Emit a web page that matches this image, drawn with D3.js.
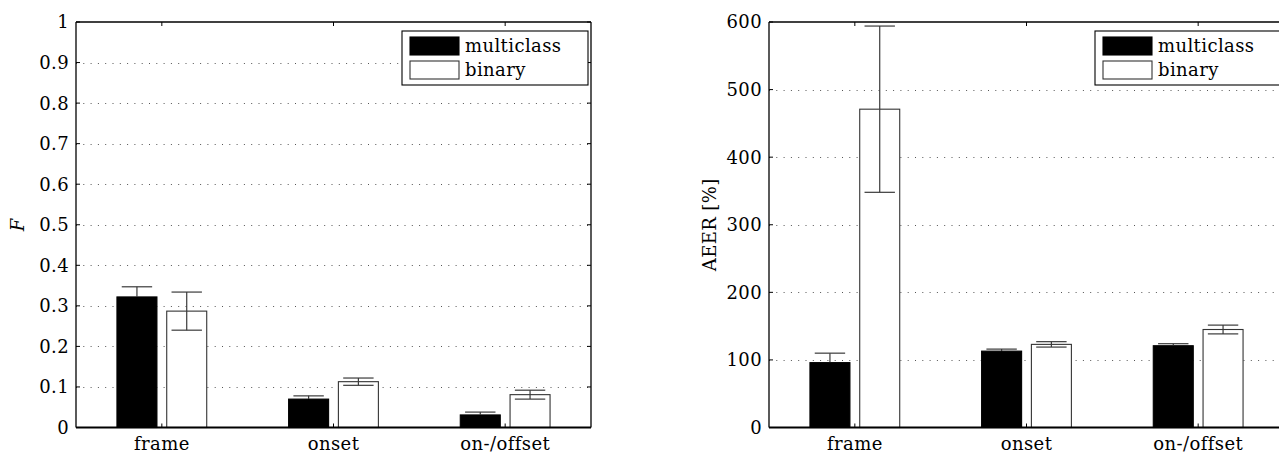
<!DOCTYPE html>
<html>
<head>
<meta charset="utf-8">
<script src="https://cdn.jsdelivr.net/npm/d3@7"></script>
<style>
  html, body { margin: 0; padding: 0; background: #fff; }
  svg { display: block; }
</style>
</head>
<body>
<svg id="chart" width="1279" height="454"></svg>
<script>
// ---- data ----
const categories = ["frame", "onset", "on-/offset"];
const seriesNames = ["multiclass", "binary"];

const fMulticlass = [0.322, 0.070, 0.031];
const fMulticlassErr = [0.025, 0.008, 0.007];
const fBinary = [0.287, 0.113, 0.081];
const fBinaryErr = [0.047, 0.009, 0.011];

const aeerMulticlass = [96, 113, 121];
const aeerMulticlassErr = [14, 3, 3];
const aeerBinary = [471, 123, 145];
const aeerBinaryErr = [123, 4, 6.5];

const fTicks = [0, 0.1, 0.2, 0.3, 0.4, 0.5, 0.6, 0.7, 0.8, 0.9, 1];
const aeerTicks = [0, 100, 200, 300, 400, 500, 600];

// ---- drawing ----
const svg = d3.select("#chart");
const FONT = "DejaVu Serif";
const FS = 18;
const LS = "0.4px";

function txt(sel) {
  return sel.attr("font-family", FONT).attr("font-size", FS).style("letter-spacing", LS).attr("fill", "#000");
}

function panel(opts) {
  const { x0, x1, y0, y1, ymax, ticks, tickFmt, multi, multiErr, bin, binErr, ylabel, ylabelItalic, ylabelX } = opts;
  const g = svg.append("g");
  const x = d3.scaleLinear().domain([0.5, 3.5]).range([x0, x1]);
  const y = d3.scaleLinear().domain([0, ymax]).range([y0, y1]);
  const unit = x(1) - x(0);
  const barW = 0.233 * unit;
  const off = 0.145 * unit;

  // grid
  g.selectAll("line.grid").data(ticks.filter(t => t > 0 && t < ymax)).enter()
    .append("line")
    .attr("x1", x0).attr("x2", x1)
    .attr("y1", d => Math.round(y(d)) + 0.5).attr("y2", d => Math.round(y(d)) + 0.5)
    .attr("stroke", "#555").attr("stroke-width", 1)
    .attr("stroke-dasharray", "1,6.3");

  const series = [
    { vals: multi, errs: multiErr, dx: -off, fill: "#000", stroke: "#000", err: "#000" },
    { vals: bin, errs: binErr, dx: off, fill: "#fff", stroke: "#333", err: "#3a3a3a" }
  ];

  series.forEach(s => {
    const data = categories.map((c, i) => ({ i, v: s.vals[i], e: s.errs[i] }));
    g.selectAll(null).data(data).enter().append("rect")
      .attr("x", d => x(d.i + 1) + s.dx - barW / 2)
      .attr("y", d => y(d.v))
      .attr("width", barW)
      .attr("height", d => y(0) - y(d.v))
      .attr("fill", s.fill)
      .attr("stroke", s.stroke).attr("stroke-width", 1.1);
  });

  // error bars
  series.forEach(s => {
    const data = categories.map((c, i) => ({ i, v: s.vals[i], e: s.errs[i] }));
    const capW = barW * 0.76;
    const eg = g.selectAll(null).data(data).enter().append("g")
      .attr("stroke-width", 1.2);
    eg.append("line").attr("stroke", "#3a3a3a")
      .attr("x1", d => x(d.i + 1) + s.dx).attr("x2", d => x(d.i + 1) + s.dx)
      .attr("y1", d => y(d.v)).attr("y2", d => y(d.v + d.e));
    eg.append("line").attr("stroke", "#3a3a3a")
      .attr("x1", d => x(d.i + 1) + s.dx - capW / 2).attr("x2", d => x(d.i + 1) + s.dx + capW / 2)
      .attr("y1", d => y(d.v + d.e)).attr("y2", d => y(d.v + d.e));
    eg.append("line").attr("stroke", s.err)
      .attr("x1", d => x(d.i + 1) + s.dx).attr("x2", d => x(d.i + 1) + s.dx)
      .attr("y1", d => y(d.v - d.e)).attr("y2", d => y(d.v));
    eg.append("line").attr("stroke", s.err)
      .attr("x1", d => x(d.i + 1) + s.dx - capW / 2).attr("x2", d => x(d.i + 1) + s.dx + capW / 2)
      .attr("y1", d => y(d.v - d.e)).attr("y2", d => y(d.v - d.e));
  });

  // box
  g.append("line").attr("x1", x0).attr("x2", x1).attr("y1", y1).attr("y2", y1).attr("stroke", "#000").attr("stroke-width", 1.3);
  g.append("line").attr("x1", x0).attr("x2", x1).attr("y1", y0).attr("y2", y0).attr("stroke", "#000").attr("stroke-width", 2);
  g.append("line").attr("x1", x0).attr("x2", x0).attr("y1", y0).attr("y2", y1).attr("stroke", "#000").attr("stroke-width", 1.3);
  g.append("line").attr("x1", x1).attr("x2", x1).attr("y1", y0).attr("y2", y1).attr("stroke", "#000").attr("stroke-width", 1.3);

  // y ticks (inward both sides)
  ticks.forEach(t => {
    g.append("line").attr("x1", x0).attr("x2", x0 + 4).attr("y1", y(t)).attr("y2", y(t)).attr("stroke", "#000");
    g.append("line").attr("x1", x1).attr("x2", x1 - 4).attr("y1", y(t)).attr("y2", y(t)).attr("stroke", "#000");
  });
  txt(g.selectAll(null).data(ticks).enter().append("text"))
    .attr("x", x0 - 7).attr("y", d => y(d)).attr("dy", "0.36em")
    .attr("text-anchor", "end")
    .text(tickFmt);

  // x ticks
  categories.forEach((c, i) => {
    g.append("line").attr("x1", x(i + 1)).attr("x2", x(i + 1)).attr("y1", y0).attr("y2", y0 - 4).attr("stroke", "#000");
    g.append("line").attr("x1", x(i + 1)).attr("x2", x(i + 1)).attr("y1", y1).attr("y2", y1 + 4).attr("stroke", "#000");
  });
  txt(g.selectAll(null).data(categories).enter().append("text"))
    .attr("x", (d, i) => x(i + 1)).attr("y", y0 + 22)
    .attr("text-anchor", "middle")
    .text(d => d);

  // y label
  txt(g.append("text"))
    .attr("transform", `translate(${ylabelX},${(y0 + y1) / 2}) rotate(-90)`)
    .attr("text-anchor", "middle")
    .attr("font-style", ylabelItalic ? "italic" : "normal")
    .text(ylabel);

  // legend
  const lx = x1 - 189, ly = y1 + 9;
  const lg = g.append("g");
  lg.append("rect").attr("x", lx).attr("y", ly).attr("width", 186).attr("height", 54)
    .attr("fill", "#fff").attr("stroke", "#000").attr("stroke-width", 1.1);
  seriesNames.forEach((n, k) => {
    const s = series[k];
    lg.append("rect").attr("x", lx + 8).attr("y", ly + 6 + k * 24).attr("width", 49).attr("height", 18)
      .attr("fill", s.fill).attr("stroke", s.stroke).attr("stroke-width", 1.1);
    txt(lg.append("text")).attr("x", lx + 63).attr("y", ly + 21 + k * 24).text(n);
  });
}

panel({
  x0: 76, x1: 591, y0: 427.5, y1: 22, ymax: 1, ticks: fTicks,
  tickFmt: d => d === 0 ? "0" : d === 1 ? "1" : d3.format(".1f")(d),
  multi: fMulticlass, multiErr: fMulticlassErr, bin: fBinary, binErr: fBinaryErr,
  ylabel: "F", ylabelItalic: true, ylabelX: 24
});

panel({
  x0: 769, x1: 1284, y0: 427.5, y1: 22, ymax: 600, ticks: aeerTicks,
  tickFmt: d => String(d),
  multi: aeerMulticlass, multiErr: aeerMulticlassErr, bin: aeerBinary, binErr: aeerBinaryErr,
  ylabel: "AEER [%]", ylabelItalic: false, ylabelX: 716
});
</script>
</body>
</html>
